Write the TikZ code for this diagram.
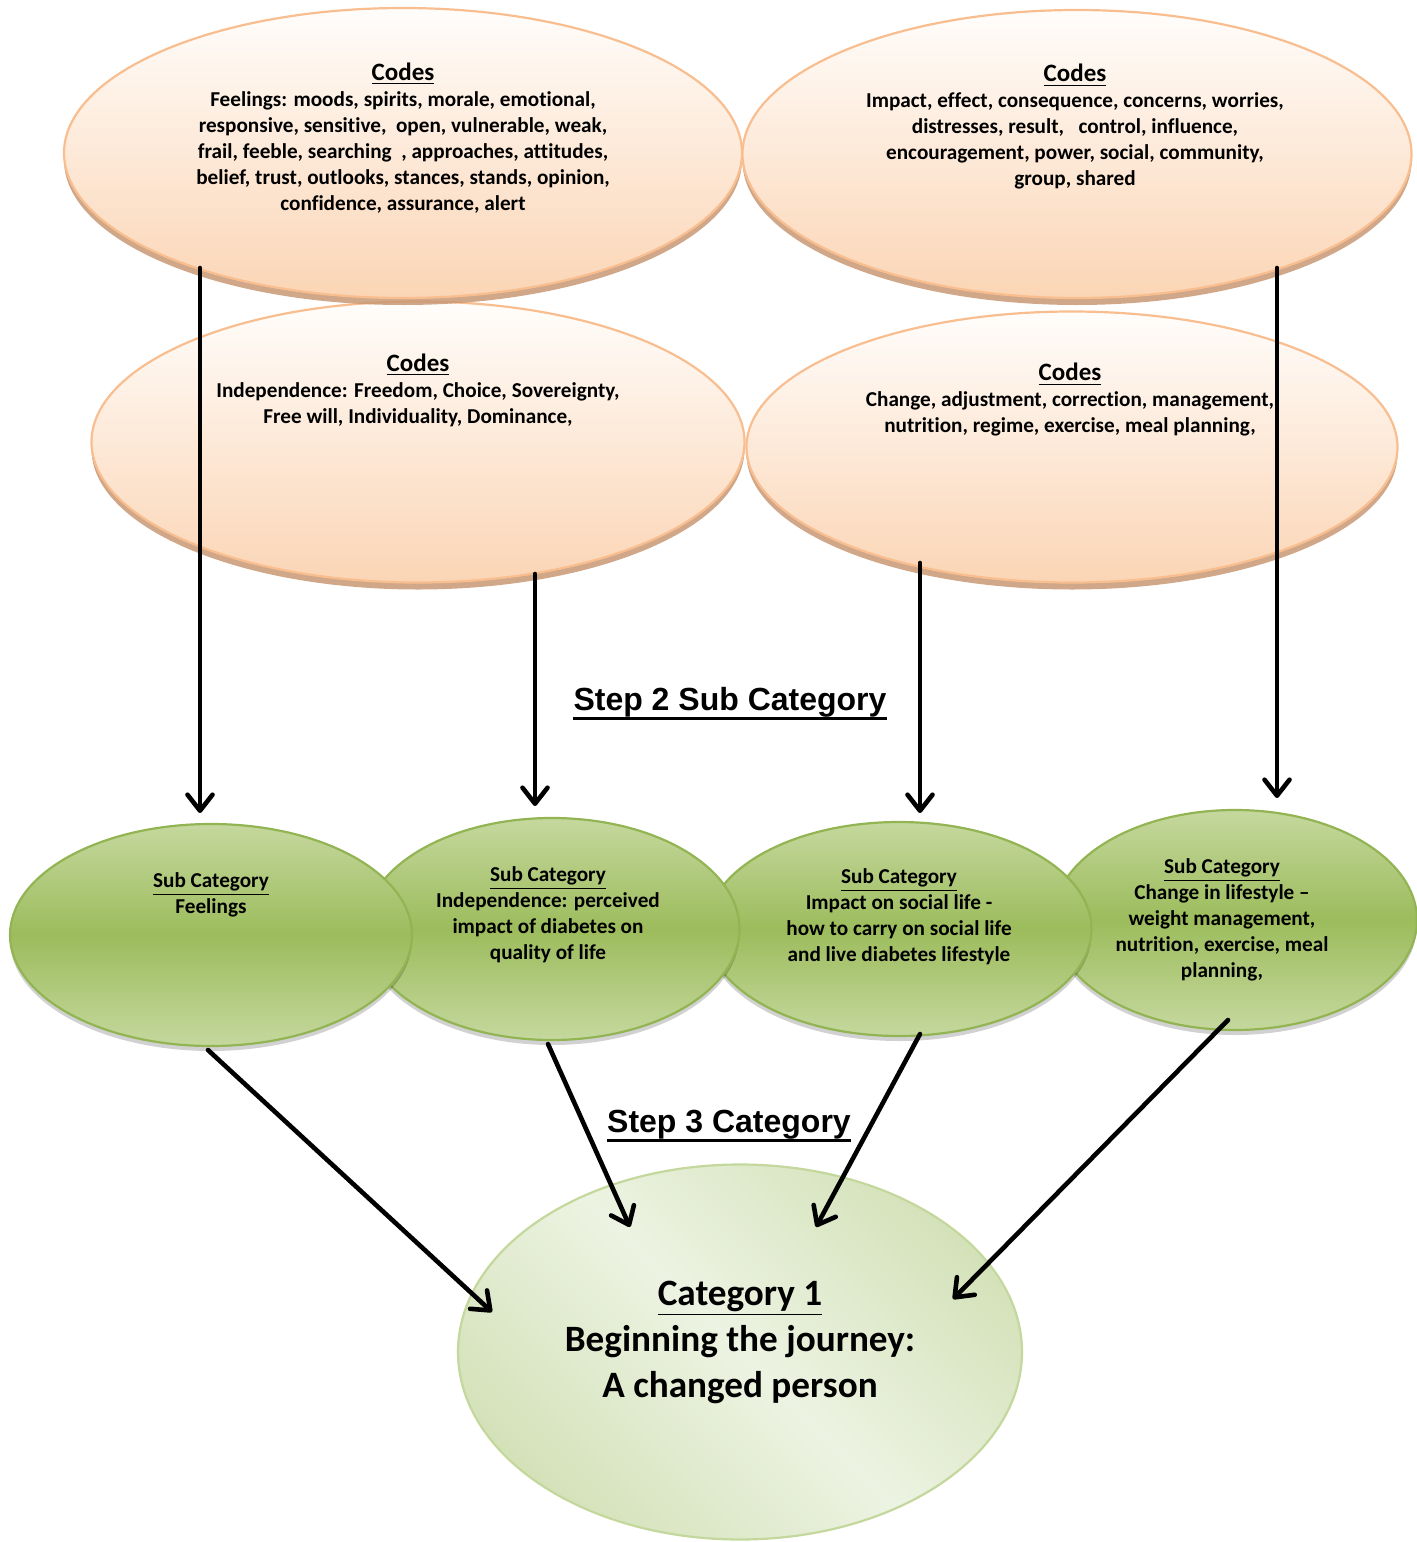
\documentclass[tikz,border=0pt]{standalone}
\usepackage{fontspec}
\setmainfont{Carlito}[Ligatures=NoCommon]
\newfontfamily\headfont{Liberation Sans}
\usetikzlibrary{arrows.meta,shapes.geometric,shadows}

\definecolor{peachline}{RGB}{249,190,143}
\definecolor{peachtop}{RGB}{255,253,251}
\definecolor{peachbot}{RGB}{251,213,181}
\definecolor{peachshadow}{RGB}{200,152,116}
\definecolor{greenline}{RGB}{146,180,82}
\definecolor{greenlight}{RGB}{197,216,158}
\definecolor{greenmid}{RGB}{156,188,92}
\definecolor{paleline}{RGB}{196,215,156}
\definecolor{palelight}{RGB}{237,243,226}
\definecolor{paledark}{RGB}{212,226,186}

\begin{document}
\begin{tikzpicture}[x=0.5pt,y=-0.5pt,
  codebubble/.style={ellipse, draw=peachline, line width=1.1pt,
    top color=peachtop, bottom color=peachbot, inner sep=0pt,
    drop shadow={shadow xshift=0pt, shadow yshift=-3.5pt,
      fill=peachshadow, opacity=0.85}},
  subbubble/.style={ellipse, draw=greenline, line width=1.1pt,
    top color=greenlight, bottom color=greenlight, middle color=greenmid,
    inner sep=0pt,
    drop shadow={shadow xshift=0pt, shadow yshift=-2.5pt,
      fill=black, opacity=0.18}},
  catbubble/.style={ellipse, draw=paleline, line width=1.1pt,
    top color=paledark, bottom color=paledark, middle color=palelight,
    shading angle=-45, inner sep=0pt},
  codetext/.style={align=center, inner sep=0pt,
    font=\bfseries\fontsize{10.6}{13}\selectfont},
  cattext/.style={align=center, inner sep=0pt,
    font=\bfseries\fontsize{18.6}{23}\selectfont},
  steptext/.style={inner sep=0pt, font=\headfont\bfseries\fontsize{16}{19}\selectfont},
  stepline/.style={line width=1.5pt},
  conn/.style={line width=2.3pt, line cap=round,
    -{Straight Barb[length=8pt,width=12.5pt,line cap=round,line join=round]}}
]
\useasboundingbox (0,0) rectangle (1417,1542);

% second row of code bubbles
\node[codebubble, minimum width=326.5pt, minimum height=140.5pt] (codesB) at (418,442) {};
\node[codebubble, minimum width=325.5pt, minimum height=135.5pt] (codesD) at (1072,447) {};
% first row of code bubbles
\node[codebubble, minimum width=339pt, minimum height=145pt] (codesA) at (403,153) {};
\node[codebubble, minimum width=334.5pt, minimum height=144pt] (codesC) at (1077,154) {};

% sub-category bubbles, back to front
\node[subbubble, minimum width=182pt, minimum height=110pt] (subD) at (1235,920) {};
\node[subbubble, minimum width=192.5pt, minimum height=107pt] (subC) at (899,929) {};
\node[subbubble, minimum width=187.5pt, minimum height=111pt] (subB) at (552,929) {};
\node[subbubble, minimum width=201pt, minimum height=111pt] (subA) at (211,935) {};

% category bubble
\node[catbubble, minimum width=282pt, minimum height=187.5pt] (cat) at (740,1352) {};

% texts
\node[codetext] (txtA) at (403,138) {\underline{\fontsize{12.5}{13}\selectfont Codes}\\
  Feelings: moods, spirits, morale, emotional,\\
  responsive, sensitive,\ \ open, vulnerable, weak,\\
  frail, feeble, searching\ \ , approaches, attitudes,\\
  belief, trust, outlooks, stances, stands, opinion,\\
  confidence, assurance, alert};
\node[codetext] (txtC) at (1075,127) {\underline{\fontsize{12.5}{13}\selectfont Codes}\\
  Impact, effect, consequence, concerns, worries,\\
  distresses, result,\ \ \ control, influence,\\
  encouragement, power, social, community,\\
  group, shared};
\node[codetext] (txtB) at (418,390) {\underline{\fontsize{12.5}{13}\selectfont Codes}\\
  Independence: Freedom, Choice, Sovereignty,\\
  Free will, Individuality, Dominance,};
\node[codetext] (txtD) at (1070,400) {\underline{\fontsize{12.5}{13}\selectfont Codes}\\
  Change, adjustment, correction, management,\\
  nutrition, regime, exercise, meal planning,};

\node[codetext] (stxA) at (211,895) {\underline{Sub Category}\\Feelings};
\node[codetext] (stxB) at (548,915) {\underline{Sub Category}\\
  Independence: perceived\\impact of diabetes on\\quality of life};
\node[codetext] (stxC) at (899,917) {\underline{Sub Category}\\
  Impact on social life -\\how to carry on social life\\and live diabetes lifestyle};
\node[codetext] (stxD) at (1222,920) {\underline{Sub Category}\\
  Change in lifestyle –\\weight management,\\nutrition, exercise, meal\\planning,};

\node[cattext] (ctx) at (740,1342) {\underline{Category 1}\\
  Beginning the journey:\\A changed person};

% step headings with their underlines
\node[steptext] (step2) at (730,702) {Step 2 Sub Category};
\node[steptext] (step3) at (729,1125) {Step 3 Category};
\draw[stepline] ([yshift=-0.5pt]step2.south west) -- ([yshift=-0.5pt]step2.south east);
\draw[stepline] ([yshift=-0.5pt]step3.south west) -- ([yshift=-0.5pt]step3.south east);

% connector end points
\coordinate (a1s) at (200,268);  \coordinate (a1e) at (200,813);
\coordinate (a2s) at (535,574);  \coordinate (a2e) at (535,806);
\coordinate (a3s) at (920,563);  \coordinate (a3e) at (920,813);
\coordinate (a4s) at (1277,268); \coordinate (a4e) at (1277,798);
\coordinate (b1s) at (208,1050); \coordinate (b1e) at (492,1312);
\coordinate (b2s) at (548,1044); \coordinate (b2e) at (630,1227);
\coordinate (b3s) at (920,1034); \coordinate (b3e) at (816,1227);
\coordinate (b4s) at (1228,1020);\coordinate (b4e) at (953,1299);

% codes to sub-categories
\draw[conn] (a1s) -- (a1e);
\draw[conn] (a2s) -- (a2e);
\draw[conn] (a3s) -- (a3e);
\draw[conn] (a4s) -- (a4e);
% sub-categories to category
\draw[conn] (b1s) -- (b1e);
\draw[conn] (b2s) -- (b2e);
\draw[conn] (b3s) -- (b3e);
\draw[conn] (b4s) -- (b4e);
\end{tikzpicture}
\end{document}
